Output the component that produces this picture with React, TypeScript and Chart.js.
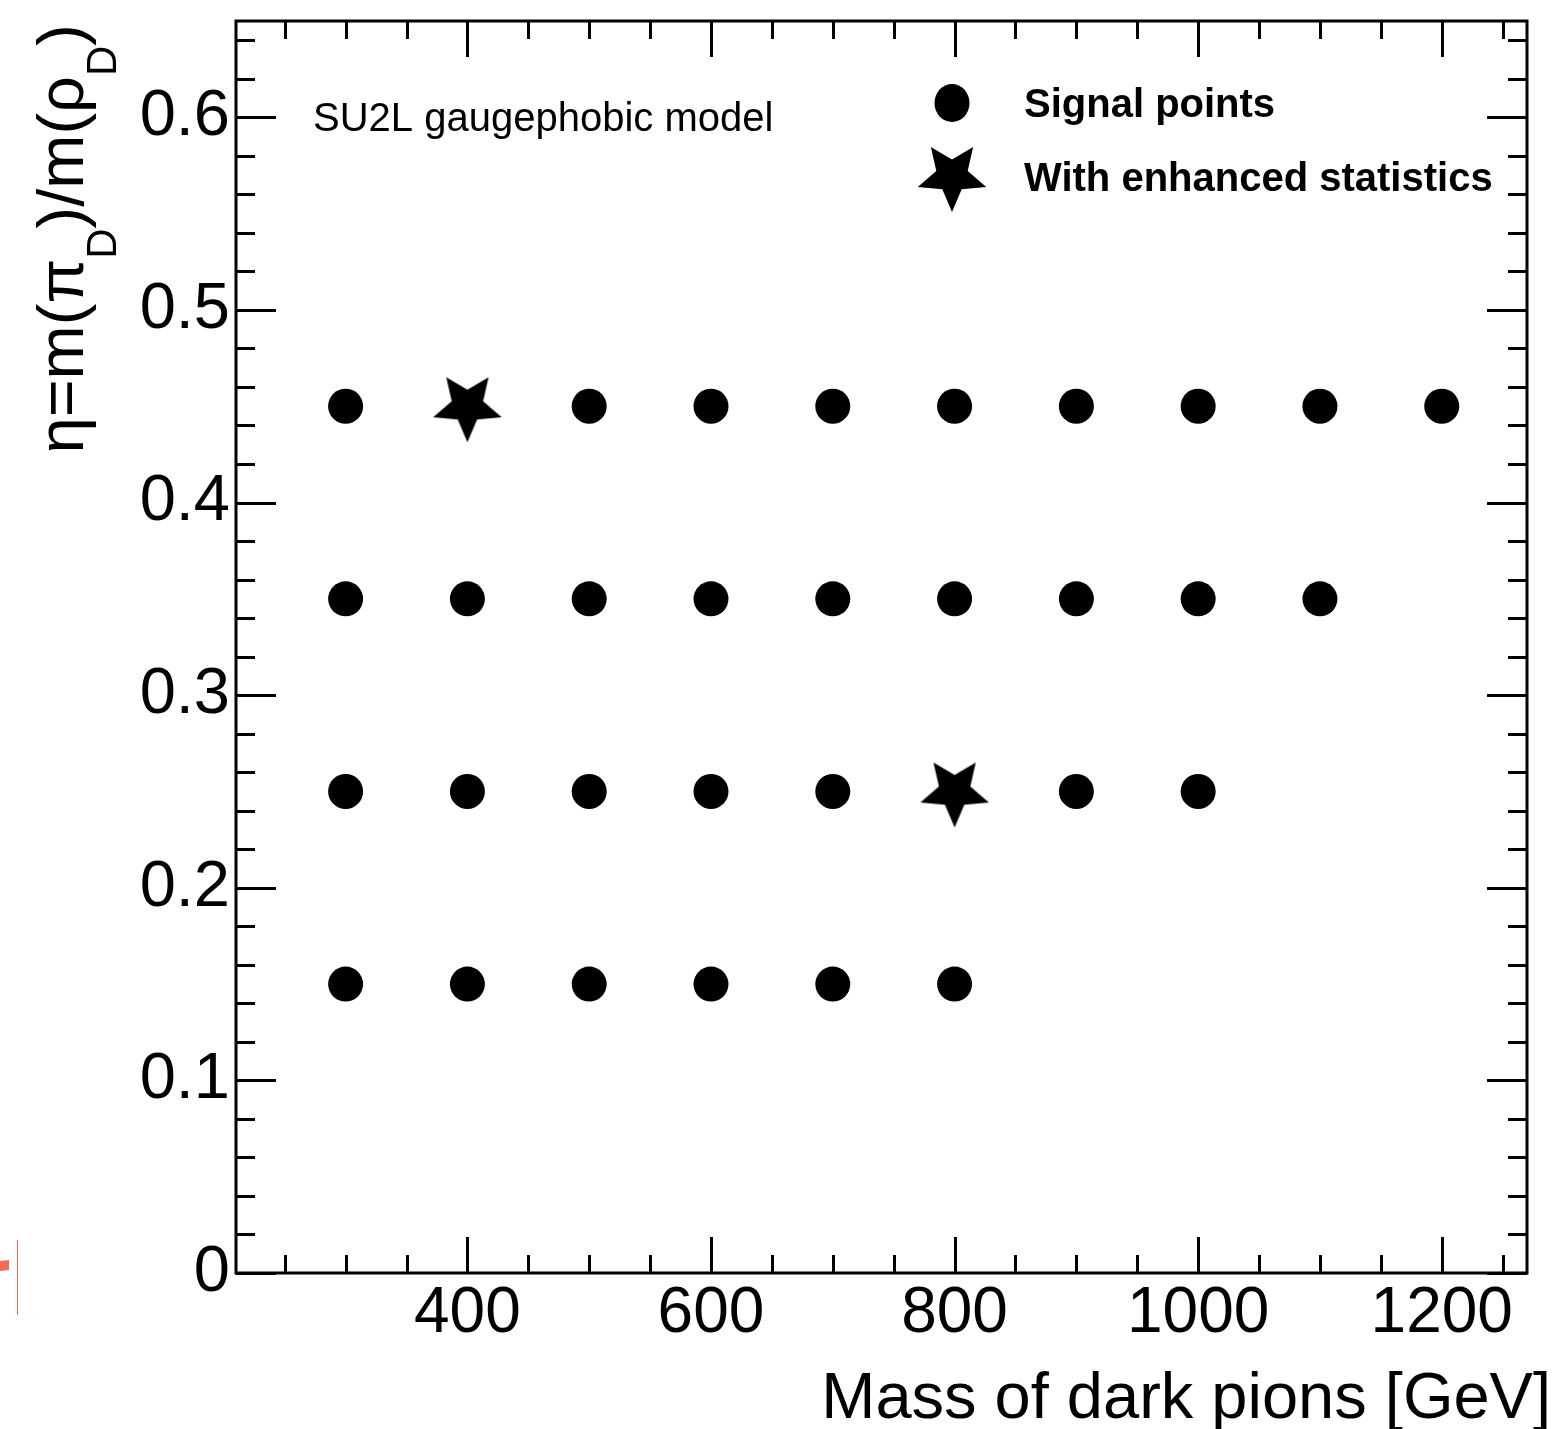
import { useEffect, useRef } from "react";
import { Chart, registerables } from "chart.js";

Chart.register(...registerables);

// ---- data ----
const etaLevels = [0.15, 0.25, 0.35, 0.45];
const signalMassEta015 = [300, 400, 500, 600, 700, 800];
const signalMassEta025 = [300, 400, 500, 600, 700, 900, 1000];
const signalMassEta035 = [300, 400, 500, 600, 700, 800, 900, 1000, 1100];
const signalMassEta045 = [300, 500, 600, 700, 800, 900, 1000, 1100, 1200];
const enhancedMass = [400, 800];
const enhancedEta = [0.45, 0.25];

const xTickLabels = [400, 600, 800, 1000, 1200];
const yTickLabels = [0, 0.1, 0.2, 0.3, 0.4, 0.5, 0.6];
const xRange = [210, 1270];
const yRange = [0, 0.65];
const xMinorStep = 50;
const yMinorStep = 0.02;

const legendLabels = ["Signal points", "With enhanced statistics"];
const modelLabel = "SU2L gaugephobic model";
const xTitle = "Mass of dark pions [GeV]";

const FONT = "'Liberation Sans', Arial, Helvetica, sans-serif";

function makeStar(R: number, r: number): HTMLCanvasElement {
  const c = document.createElement("canvas");
  const s = Math.ceil(2 * R + 4);
  c.width = s;
  c.height = s;
  const g = c.getContext("2d")!;
  g.translate(s / 2, s / 2);
  g.beginPath();
  for (let i = 0; i < 10; i++) {
    const rad = i % 2 === 0 ? R : r;
    const a = Math.PI / 2 + (i * Math.PI) / 5;
    g.lineTo(rad * Math.cos(a), rad * Math.sin(a));
  }
  g.closePath();
  g.fillStyle = "#000";
  g.fill();
  return c;
}

const zeroPad = (s: any) => {
  s.paddingTop = 0;
  s.paddingBottom = 0;
  s.paddingLeft = 0;
  s.paddingRight = 0;
};

export default function App() {
  const ref = useRef<HTMLCanvasElement | null>(null);

  useEffect(() => {
    document.body.style.margin = "0";
    document.body.style.overflow = "hidden";
    const canvas = ref.current!;
    const star = makeStar(36, 16.5);

    const signalRows = [signalMassEta015, signalMassEta025, signalMassEta035, signalMassEta045];
    const signalData: { x: number; y: number }[] = [];
    signalRows.forEach((row, i) => row.forEach((m) => signalData.push({ x: m, y: etaLevels[i] })));
    const enhancedData = enhancedMass.map((m, i) => ({ x: m, y: enhancedEta[i] }));

    const decor = {
      id: "decor",
      afterDraw(chart: any) {
        const ctx = chart.ctx as CanvasRenderingContext2D;
        const { left, right, top, bottom } = chart.chartArea;
        const xs = chart.scales.x;
        const ys = chart.scales.y;
        ctx.save();
        ctx.strokeStyle = "#000";
        ctx.lineWidth = 3;
        // ticks
        const majL = 36, minL = 18;
        for (let v = Math.ceil(xRange[0] / xMinorStep) * xMinorStep; v <= xRange[1]; v += xMinorStep) {
          const major = xTickLabels.includes(v);
          const px = Math.round(xs.getPixelForValue(v)) + 0.5;
          const L = major ? majL : minL;
          ctx.beginPath();
          ctx.moveTo(px, bottom);
          ctx.lineTo(px, bottom - L);
          ctx.moveTo(px, top);
          ctx.lineTo(px, top + L);
          ctx.stroke();
        }
        for (let k = 0; k * yMinorStep <= yRange[1] + 1e-9; k++) {
          const v = k * yMinorStep;
          const major = k % 5 === 0;
          const py = Math.round(ys.getPixelForValue(v)) + 0.5;
          const L = major ? majL + 4 : minL + 1;
          ctx.beginPath();
          ctx.moveTo(left, py);
          ctx.lineTo(left + L, py);
          ctx.moveTo(right, py);
          ctx.lineTo(right - L, py);
          ctx.stroke();
        }
        // frame
        ctx.strokeRect(left, top, right - left, bottom - top);

        // model label
        ctx.fillStyle = "#000";
        ctx.font = `40px ${FONT}`;
        ctx.textAlign = "left";
        ctx.textBaseline = "alphabetic";
        ctx.fillText(modelLabel, 313, 131);

        // legend
        ctx.beginPath();
        ctx.ellipse(952, 103, 17.5, 19, 0, 0, Math.PI * 2);
        ctx.fill();
        ctx.drawImage(star, 952 - star.width / 2, 176 - star.height / 2);
        ctx.font = `bold 40px ${FONT}`;
        ctx.textBaseline = "alphabetic";
        ctx.fillText(legendLabels[0], 1024, 117);
        ctx.fillText(legendLabels[1], 1024, 191);

        // x title
        ctx.font = `65px ${FONT}`;
        ctx.textAlign = "right";
        ctx.fillText(xTitle, 1551, 1418);

        // y title (rotated) with subscripts
        const parts: [string, boolean][] = [
          ["\u03B7=m(\u03C0", false],
          ["D", true],
          [")/m(\u03C1", false],
          ["D", true],
          [")", false],
        ];
        const mainF = `65px ${FONT}`;
        const subF = `42px ${FONT}`;
        let W = 0;
        parts.forEach(([t, s]) => {
          ctx.font = s ? subF : mainF;
          W += ctx.measureText(t).width;
        });
        ctx.translate(83, 24);
        ctx.rotate(-Math.PI / 2);
        ctx.textAlign = "left";
        let cx = -W;
        parts.forEach(([t, s]) => {
          ctx.font = s ? subF : mainF;
          ctx.fillText(t, cx, s ? 33 : 0);
          cx += ctx.measureText(t).width;
        });
        ctx.setTransform(1, 0, 0, 1, 0, 0);

        // red artifact at left edge
        ctx.fillStyle = "rgb(245,105,85)";
        ctx.beginPath();
        ctx.moveTo(0, 1261);
        ctx.lineTo(9, 1260);
        ctx.lineTo(9, 1270);
        ctx.lineTo(0, 1271);
        ctx.closePath();
        ctx.fill();
        ctx.strokeStyle = "rgb(245,105,85)";
        ctx.lineWidth = 1;
        ctx.beginPath();
        ctx.moveTo(17.5, 1240);
        ctx.lineTo(17.5, 1315);
        ctx.stroke();
        ctx.restore();
      },
    };

    const chart = new Chart(canvas, {
      type: "scatter",
      data: {
        datasets: [
          {
            label: legendLabels[0],
            data: signalData,
            pointStyle: "circle",
            pointRadius: 17.5,
            pointHoverRadius: 17.5,
            pointBackgroundColor: "#000",
            pointBorderWidth: 0,
            borderColor: "#000",
          },
          {
            label: legendLabels[1],
            data: enhancedData,
            pointStyle: star as any,
            pointRadius: 36,
            pointBackgroundColor: "#000",
            pointBorderWidth: 0,
          },
        ],
      },
      options: {
        animation: false,
        responsive: false,
        devicePixelRatio: 1,
        layout: { autoPadding: false, padding: { top: 21, right: 31, left: 0, bottom: 0 } },
        plugins: { legend: { display: false }, tooltip: { enabled: false } },
        scales: {
          x: {
            type: "linear",
            min: xRange[0],
            max: xRange[1],
            grid: { display: false, drawTicks: false },
            border: { display: false },
            afterBuildTicks: (s: any) => {
              s.ticks = xTickLabels.map((v) => ({ value: v }));
            },
            afterFit: (s: any) => {
              s.height = 156;
              zeroPad(s);
            },
            ticks: {
              color: "#000",
              padding: 3,
              maxRotation: 0,
              autoSkip: false,
              font: { family: FONT, size: 64 },
              callback: (v: any) => String(v),
            },
          },
          y: {
            type: "linear",
            min: yRange[0],
            max: yRange[1],
            grid: { display: false, drawTicks: false },
            border: { display: false },
            afterBuildTicks: (s: any) => {
              s.ticks = yTickLabels.map((v) => ({ value: v }));
            },
            afterFit: (s: any) => {
              s.width = 236;
              zeroPad(s);
            },
            ticks: {
              color: "#000",
              padding: 6,
              autoSkip: false,
              font: { family: FONT, size: 65 },
              callback: (v: any) => (Number(v) === 0 ? "0" : Number(v).toFixed(1)),
            },
          },
        },
      },
      plugins: [decor],
    });
    return () => chart.destroy();
  }, []);

  return (
    <canvas
      ref={ref}
      width={1558}
      height={1429}
      style={{ display: "block", width: 1558, height: 1429, background: "#fff" }}
    />
  );
}
